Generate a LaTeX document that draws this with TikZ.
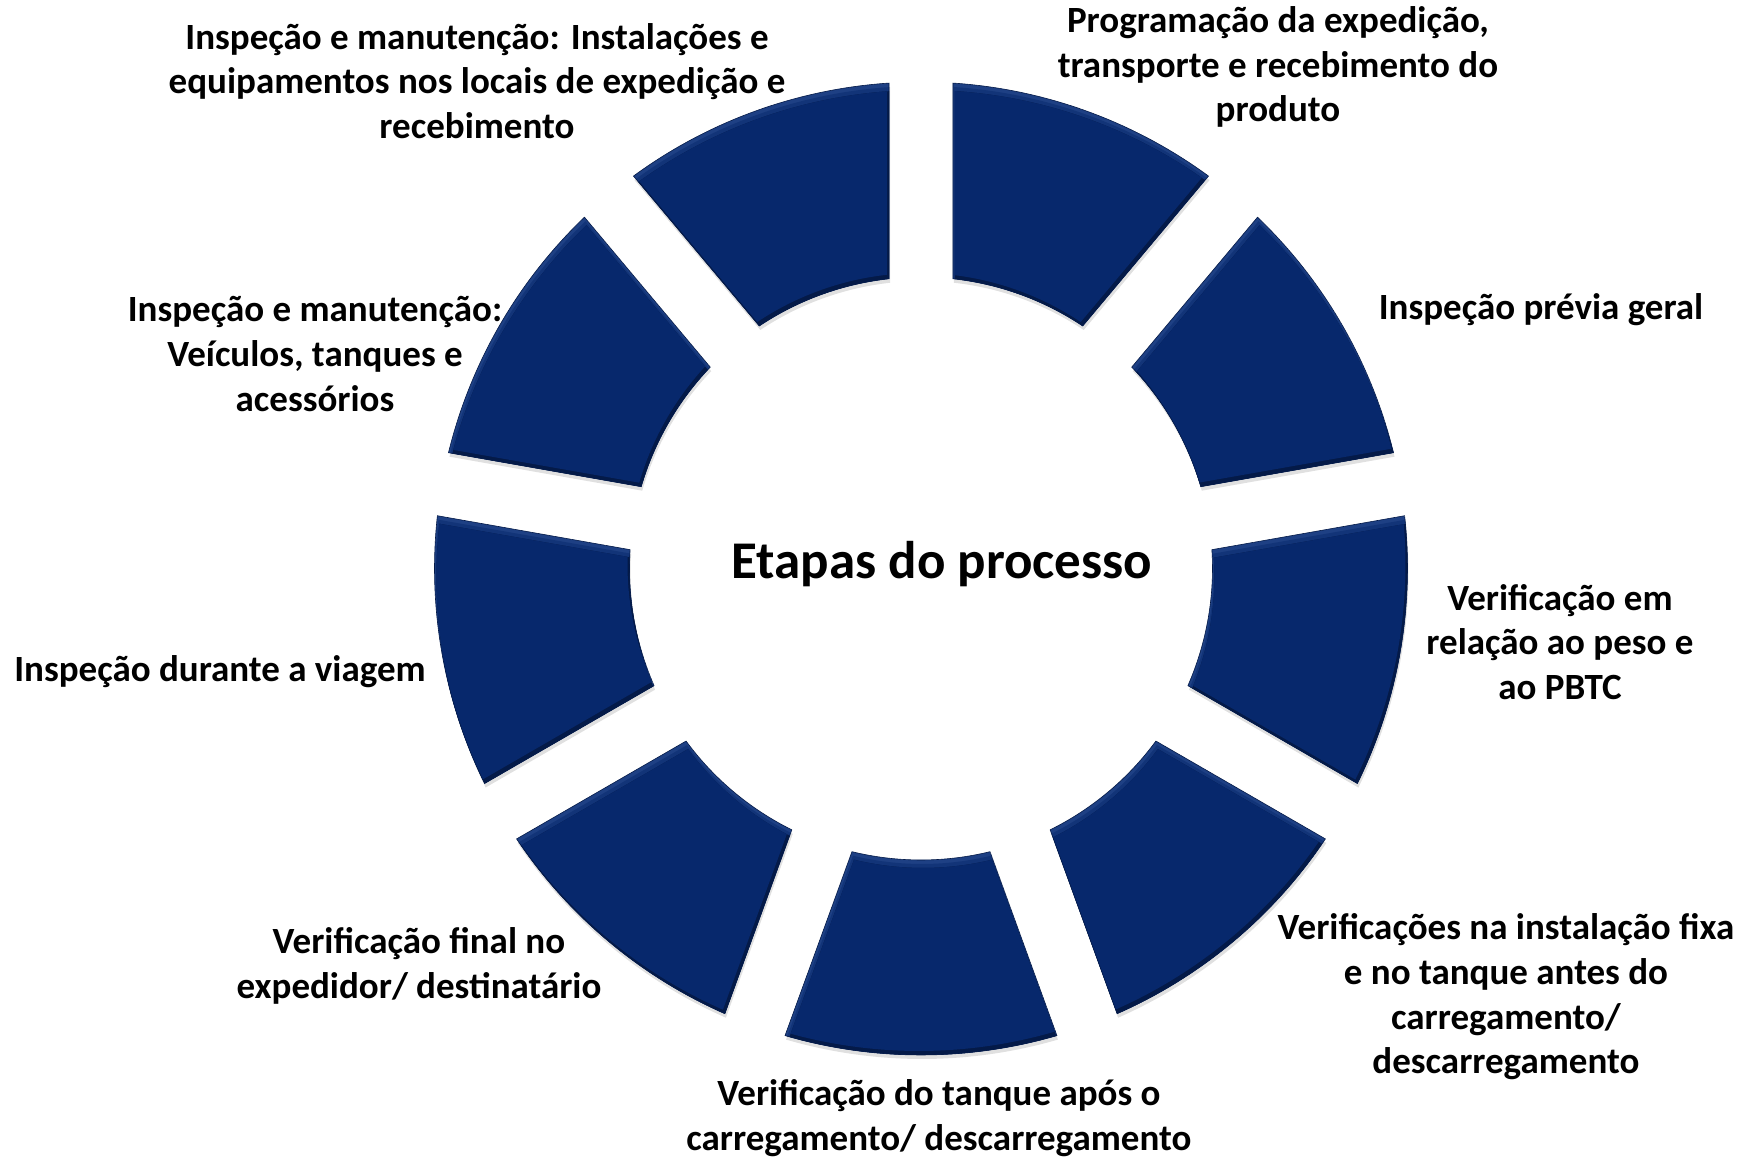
\documentclass[tikz,border=0pt]{standalone}
\usepackage{fontspec}
\setmainfont{Carlito}
\definecolor{segblue}{RGB}{7,40,108}
\definecolor{seglight}{RGB}{30,64,132}
\definecolor{segmid}{RGB}{18,52,120}
\definecolor{segdark}{RGB}{4,26,72}
\tikzset{
  lbl/.style={font=\fontsize{37}{44.6}\selectfont\bfseries, align=center, inner sep=0pt, text=black},
  ttl/.style={font=\fontsize{53}{60}\selectfont\bfseries, align=center, inner sep=0pt, text=black}
}
\begin{document}
\begin{tikzpicture}[x=1pt,y=1pt]
\useasboundingbox[fill=white] (-921,-590.5) rectangle (827,568.5);
\def\Ro{486.5}
\def\Ri{291.5}
\def\segpath{(\sa:\Ro) arc[start angle=\sa, end angle=\ea, radius=\Ro] -- (\si:\Ri) arc[start angle=\si, end angle=\ei, radius=\Ri] -- cycle}
\foreach \a in {10,50,90,130,170,210,250,290,330}{
  \pgfmathsetmacro\sa{\a+3.77}
  \pgfmathsetmacro\ea{\a+40-3.77}
  \pgfmathsetmacro\si{\a+40-6.30}
  \pgfmathsetmacro\ei{\a+6.30}
  \begin{scope}[shift={(1,-4)}]
    \fill[black, opacity=0.12] \segpath;
  \end{scope}
  \begin{scope}
    \clip \segpath;
    \fill[seglight] \segpath;
    \begin{scope}[yshift=-4pt, xshift=1pt]
      \clip \segpath;
      \fill[segmid] (-700,-700) rectangle (700,700);
      \begin{scope}[yshift=-4pt, xshift=1pt]
        \clip \segpath;
        \fill[segdark] (-700,-700) rectangle (700,700);
        \begin{scope}[yshift=12pt, xshift=-4pt]
          \clip \segpath;
          \fill[segblue] (-700,-700) rectangle (700,700);
        \end{scope}
      \end{scope}
    \end{scope}
  \end{scope}
  \draw[segdark, line width=0.6pt] \segpath;
}
\node[lbl] (l1) at (-444,487.5) {Inspeção e manutenção: Instalações e\\equipamentos nos locais de expedição e\\recebimento};
\node[lbl] (l2) at (357,501.5) {Programação da expedição,\\transporte e recebimento do\\produto};
\node[lbl] (l3) at (620,258.5) {Inspeção prévia geral};
\node[lbl] (l4) at (639,-73.5) {Verificação em\\relação ao peso e\\ao PBTC};
\node[lbl] (l5) at (585,-428.5) {Verificações na instalação fixa\\e no tanque antes do\\carregamento/\\descarregamento};
\node[lbl] (l6) at (18,-549.5) {Verificação do tanque após o\\carregamento/ descarregamento};
\node[lbl] (l7) at (-502,-397.5) {Verificação final no\\expedidor/ destinatário};
\node[lbl] (l8) at (-701,-103.5) {Inspeção durante a viagem};
\node[lbl] (l9) at (-606,214.5) {Inspeção e manutenção:\\Veículos, tanques e\\acessórios};
\node[ttl] (title) at (21,4.5) {Etapas do processo};
\end{tikzpicture}
\end{document}
